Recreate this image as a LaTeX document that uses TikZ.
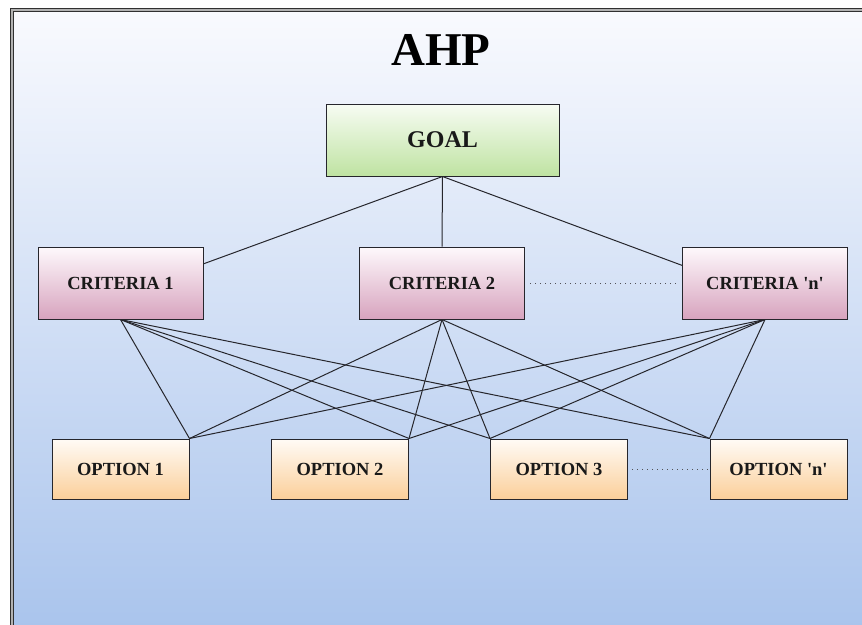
\documentclass[tikz,border=0pt]{standalone}
\usepackage{fontspec}
\setmainfont{Liberation Serif}[Ligatures=TeXOff]
\definecolor{bgtop}{HTML}{F9FAFE}
\definecolor{bgbot}{HTML}{A8C3EC}
\definecolor{goaltop}{HTML}{F7FCF3}
\definecolor{goalbot}{HTML}{BFE3A2}
\definecolor{crittop}{HTML}{FEF9FC}
\definecolor{critbot}{HTML}{D7A3BE}
\definecolor{opttop}{HTML}{FFFBF6}
\definecolor{optbot}{HTML}{FBCF9A}
\definecolor{edge}{HTML}{26262C}
\definecolor{frame}{HTML}{303030}
\tikzset{
  box/.style={rectangle, draw=edge, line width=1pt, inner sep=0pt, align=center,
    font=\bfseries\fontsize{18.5}{22}\selectfont, text=black!90},
  goalbox/.style={box, minimum width=233pt, minimum height=72pt,
    top color=goaltop, bottom color=goalbot, font=\bfseries\fontsize{24}{28}\selectfont},
  critbox/.style={box, minimum width=165pt, minimum height=72pt,
    top color=crittop, bottom color=critbot},
  optbox/.style={box, minimum width=137pt, minimum height=60pt,
    top color=opttop, bottom color=optbot},
  link/.style={draw=edge, line width=1pt},
  dotlink/.style={draw=edge!80, line width=0.8pt, dash pattern=on 0.9pt off 4.1pt},
}
\begin{document}
\begin{tikzpicture}[x=1pt,y=-1pt]
\useasboundingbox (0,0) rectangle (862,624);
\clip (0,0) rectangle (862,624);
\fill[white] (0,0) rectangle (862,624);
\shade[top color=bgtop, bottom color=bgbot] (12,10) rectangle (880,640);
\draw[draw=frame, double=gray!60, line width=1pt, double distance=1.4pt] (12,10) rectangle (880,640);

\node (title) at (441,50) {\bfseries\fontsize{47}{52}\selectfont AHP};

\node[goalbox] (goal) at (442.5,140) {GOAL};

\node[critbox] (c1) at (120.5,283) {CRITERIA 1};
\node[critbox] (c2) at (442,283) {CRITERIA 2};
\node[critbox] (cn) at (765,283) {CRITERIA 'n'};

\node[optbox] (o1) at (120.5,469) {OPTION 1};
\node[optbox] (o2) at (340,469) {OPTION 2};
\node[optbox] (o3) at (559,469) {OPTION 3};
\node[optbox] (on) at (778.5,469) {OPTION 'n'};

\draw[link] (goal.south) -- (c1.13);
\draw[link] (goal.south) -- (c2.north);
\draw[link] (goal.south) -- (cn.168);

\foreach \c in {c1,c2,cn}{
  \draw[link] (\c.south) -- (o1.north east);
  \draw[link] (\c.south) -- (o2.north east);
  \draw[link] (\c.south) -- (o3.north west);
  \draw[link] (\c.south) -- (on.north west);
}

\draw[dotlink, shorten <=5pt, shorten >=6pt] (c2.east) -- (cn.west);
\draw[dotlink, shorten <=4pt, shorten >=2pt] (o3.east) -- (on.west);
\end{tikzpicture}
\end{document}
